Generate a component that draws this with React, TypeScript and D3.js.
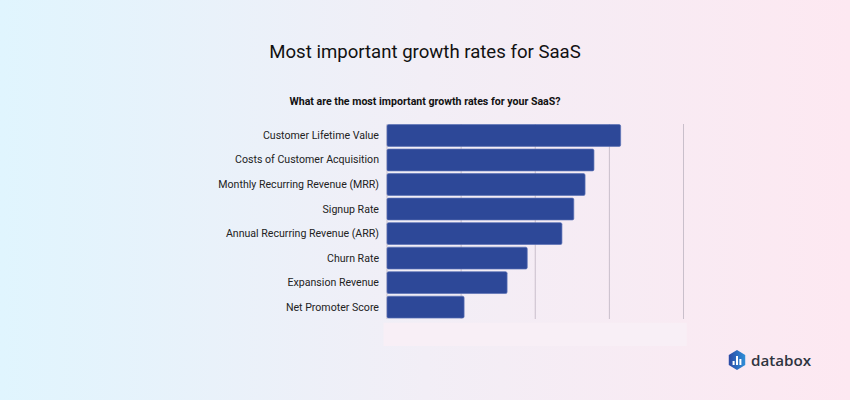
import React from "react";
import * as d3 from "d3";

const categories = [
  "Customer Lifetime Value",
  "Costs of Customer Acquisition",
  "Monthly Recurring Revenue (MRR)",
  "Signup Rate",
  "Annual Recurring Revenue (ARR)",
  "Churn Rate",
  "Expansion Revenue",
  "Net Promoter Score",
];
const values = [78.8, 69.8, 66.8, 63, 59, 47.3, 40.5, 26];
const gridTicks = [0, 25, 50, 75, 100];
const title = "Most important growth rates for SaaS";
const subtitle = "What are the most important growth rates for your SaaS?";
const brand = "databox";
const logoBars = [4, 9, 6];

const W = 850;
const H = 400;
const font = "Roboto, sans-serif";

export default function App() {
  const x = d3.scaleLinear().domain([0, 100]).range([387, 683.5]);
  const y = d3.scaleBand<string>().domain(categories).range([123.2, 319.4]).paddingInner(0.11).paddingOuter(0.055);
  const hex = d3.line()(
    d3.range(6).map((i) => {
      const a = (i * Math.PI) / 3 - Math.PI / 2;
      return [9.5 * Math.cos(a), 10 * Math.sin(a)] as [number, number];
    })
  ) + "Z";
  return (
    <svg width={W} height={H} style={{ position: "absolute", left: 0, top: 0, display: "block" }}>
      <defs>
        <linearGradient id="bg" x1="0" x2="1" y1="0" y2="0">
          <stop offset="0" stopColor="#E0F5FE" />
          <stop offset="0.5" stopColor="#F2EEF6" />
          <stop offset="1" stopColor="#FDE8F1" />
        </linearGradient>
        <linearGradient id="logo" x1="0" x2="1" y1="0" y2="0">
          <stop offset="0" stopColor="#2B4AA5" />
          <stop offset="1" stopColor="#2F8FD8" />
        </linearGradient>
      </defs>
      <rect width={W} height={H} fill="url(#bg)" />
      <text x={425} y={58} textAnchor="middle" fontFamily={font} fontSize={18.6} fill="#111">{title}</text>
      <text x={425} y={105} textAnchor="middle" fontFamily={font} fontSize={10.6} fontWeight={700} fill="#111">{subtitle}</text>
      <rect x={383.5} y={322.7} width={303.2} height={23.3} fill="#F8EFF6" />
      {gridTicks.map((t) => (
        <line key={t} x1={x(t)} x2={x(t)} y1={124} y2={319} stroke="#C9BFCB" strokeWidth={1} />
      ))}
      {categories.map((c, i) => (
        <g key={c}>
          <rect
            x={x(0)}
            y={y(c)!}
            width={x(values[i]) - x(0)}
            height={y.bandwidth()}
            rx={1.5}
            fill="#2D4898"
            stroke="#5A71B5"
            strokeWidth={0.7}
          />
          <text x={379} y={y(c)! + y.bandwidth() / 2 + 3.5} textAnchor="end" fontFamily={font} fontSize={10.6} fill="#222">{c}</text>
        </g>
      ))}
      <g transform="translate(737,360)">
        <path d={hex} fill="url(#logo)" />
        {logoBars.map((h, i) => (
          <rect key={i} x={-4.4 + i * 3.4} y={5 - h} width={2} height={h} fill="#fff" />
        ))}
      </g>
      <text x={751} y={365.5} fontFamily="'Open Sans', sans-serif" fontSize={15.2} fontWeight={600} fill="#2E3440">{brand}</text>
    </svg>
  );
}
